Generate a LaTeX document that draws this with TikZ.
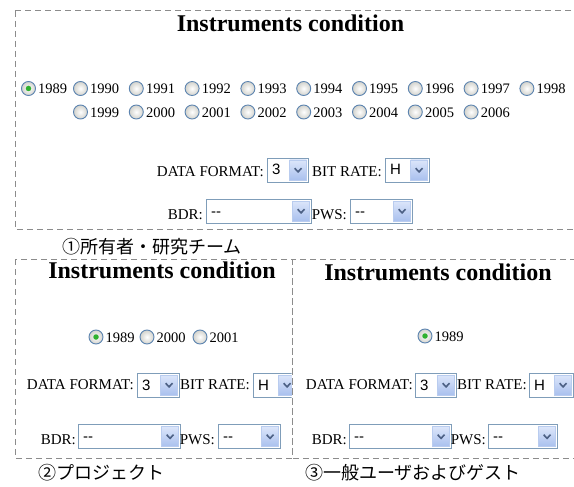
\documentclass[tikz,border=0pt]{standalone}
\usepackage{fontspec}
\setmainfont{Liberation Serif}
\newfontfamily\cjkfont{Noto Sans CJK JP}
\newfontfamily\uifont{Liberation Sans}

\definecolor{dashgray}{HTML}{8C8C8C}
\definecolor{boxedge}{HTML}{7F9DB9}
\definecolor{btnedge}{HTML}{B9CCEF}
\definecolor{btntop}{HTML}{DCE6FA}
\definecolor{btnbottom}{HTML}{A9C0EE}
\definecolor{chevblue}{HTML}{4D6185}
\definecolor{radioedge}{HTML}{5C84B0}
\definecolor{radiofill}{HTML}{D2D2CC}
\definecolor{radiogreen}{HTML}{2FB12F}

% one drop-down list: name, left x, right x, centre y, shown value
\newcommand\selbox[5]{%
  \node[selframe, minimum width={(#3-#2)*1pt}, anchor=west] (#1) at (#2,#4) {};
  \node[seltext] (#1-t) at ([shift={(5,5)}]#1.west) {#5};
  \node[selbtn, anchor=east] (#1-b) at ([shift={(-2,0)}]#1.east) {};
  \draw[chev] ([shift={(-3.5,-1.8)}]#1-b.center) -- ([shift={(0,1.8)}]#1-b.center)
              -- ([shift={(3.5,-1.8)}]#1-b.center);
}
% one radio button with its year: name, x, y, label
\newcommand\yearradio[4]{%
  \node[radio] (#1) at (#2,#3) {};
  \node[lbl] (#1-l) at ([shift={(9.5,5.5)}]#1.center) {#4};
}

\begin{document}
\begin{tikzpicture}[x=1pt,y=-1pt,
  panel/.style={draw=dashgray, dash pattern=on 6pt off 4pt, line width=1pt},
  title/.style={font=\fontsize{24}{24}\selectfont\bfseries, inner sep=0, anchor=base},
  lbl/.style={font=\fontsize{14.5}{14.5}\selectfont, inner sep=0, anchor=base west},
  fieldlbl/.style={font=\fontsize{15}{15}\selectfont, inner sep=0, anchor=base east},
  radio/.style={circle, minimum size=14pt, inner sep=0, draw=radioedge, line width=0.9pt,
                inner color=white, outer color=radiofill},
  radiodot/.style={circle, minimum size=5.5pt, inner sep=0, fill=radiogreen},
  selframe/.style={draw=boxedge, fill=white, line width=0.8pt, minimum height=24pt, inner sep=0},
  selbtn/.style={draw=btnedge, top color=btntop, bottom color=btnbottom,
                 minimum width=17pt, minimum height=20pt, inner sep=0},
  seltext/.style={font=\uifont\fontsize{15}{15}\selectfont, inner sep=0, anchor=base west},
  chev/.style={draw=chevblue, line width=1.6pt},
  caption/.style={font=\cjkfont\fontsize{18}{18}\selectfont, inner sep=0, anchor=west}]
\useasboundingbox (0,0) rectangle (574,487);
\clip (0,0) rectangle (574,487);
\fill[white] (0,0) rectangle (574,487);

% ---------- owner / research team view ----------
\draw[panel] (15,11) rectangle (590,229);
\node[title] (t1) at (290.5,32) {Instruments condition};
\yearradio{a1989}{28.5}{88.5}{1989}
\foreach \yr [count=\i from 0] in {1990,...,1998}
  {\yearradio{a\yr}{80.5+55.8*\i}{88.5}{\yr}}
\foreach \yr [count=\i from 0] in {1999,...,2006}
  {\yearradio{a\yr}{80.5+55.8*\i}{112}{\yr}}
\node[radiodot] (a1989-dot) at (a1989.center) {};
\node[fieldlbl] (a-df) at (264,177) {DATA FORMAT:};
\selbox{a-fmt}{267}{308}{170}{3}
\node[fieldlbl] (a-br) at (382,177) {BIT RATE:};
\selbox{a-rate}{385}{429}{170}{H}
\node[fieldlbl] (a-bdr) at (203,219) {BDR:};
\selbox{a-bdrsel}{206}{311}{211}{--}
\node[fieldlbl] (a-pws) at (347,219) {PWS:};
\selbox{a-pwssel}{350}{412}{211}{--}
\node[caption] (c1) at (62,247) {①所有者・研究チーム};

% ---------- project view ----------
\draw[panel] (15,259) rectangle (292,458);
\node[title] (t2) at (162,278) {Instruments condition};
\yearradio{b1989}{96}{337}{1989}
\yearradio{b2000}{147}{337}{2000}
\yearradio{b2001}{200}{337}{2001}
\node[radiodot] (b1989-dot) at (b1989.center) {};
\node[fieldlbl] (b-df) at (134,389) {DATA FORMAT:};
\selbox{b-fmt}{137}{179}{385}{3}
\node[fieldlbl] (b-br) at (250,389) {BIT RATE:};
\begin{scope}
  \clip (0,250) rectangle (291.5,470);
  \selbox{b-rate}{253}{297}{385}{H}
\end{scope}
\node[fieldlbl] (b-bdr) at (76,444) {BDR:};
\selbox{b-bdrsel}{78}{180}{436.5}{--}
\node[fieldlbl] (b-pws) at (215,444) {PWS:};
\selbox{b-pwssel}{218}{280}{436.5}{--}
\node[caption] (c2) at (38,473) {②プロジェクト};

% ---------- general user and guest view ----------
\draw[panel] (292,259) rectangle (590,458);
\node[title] (t3) at (438,280) {Instruments condition};
\yearradio{c1989}{425}{336}{1989}
\node[radiodot] (c1989-dot) at (c1989.center) {};
\node[fieldlbl] (c-df) at (413,389) {DATA FORMAT:};
\selbox{c-fmt}{415}{456}{385}{3}
\node[fieldlbl] (c-br) at (527,389) {BIT RATE:};
\selbox{c-rate}{529}{573}{385}{H}
\node[fieldlbl] (c-bdr) at (347,444) {BDR:};
\selbox{c-bdrsel}{349}{451}{436.5}{--}
\node[fieldlbl] (c-pws) at (486,444) {PWS:};
\selbox{c-pwssel}{488}{557}{436.5}{--}
\node[caption] (c3) at (305,473) {③一般ユーザおよびゲスト};
\end{tikzpicture}
\end{document}
